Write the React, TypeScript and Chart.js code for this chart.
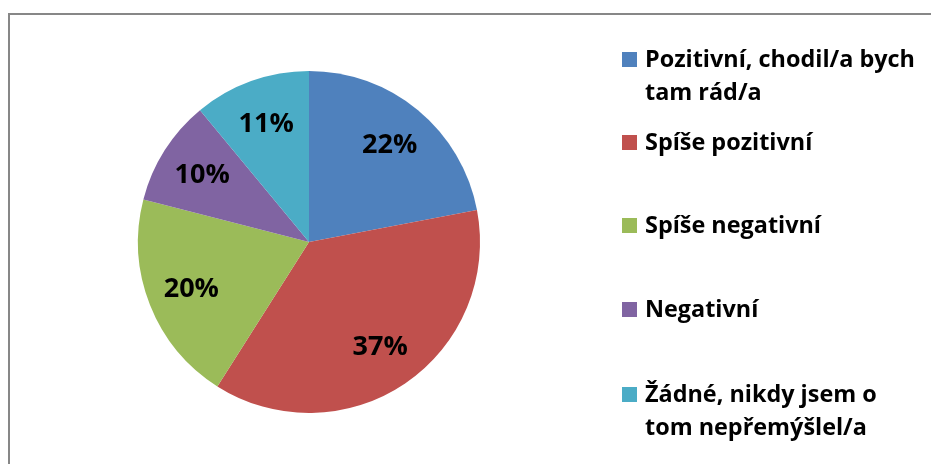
import React, { useEffect, useRef } from "react";
import { Chart, registerables } from "chart.js";

Chart.register(...registerables);

const categories: string[][] = [
  ["Pozitivní, chodil/a bych", "tam rád/a"],
  ["Spíše pozitivní"],
  ["Spíše negativní"],
  ["Negativní"],
  ["Žádné, nikdy jsem o", "tom nepřemýšlel/a"],
];
const values: number[] = [22, 37, 20, 10, 11];
const colors: string[] = ["#4F81BD", "#C0504D", "#9BBB59", "#8064A2", "#4BACC6"];

const W = 931;
const H = 464;
const FONT = "'Open Sans', Lato, sans-serif";

const framePlugin = {
  id: "frame",
  beforeDraw(chart: any) {
    const ctx = chart.ctx;
    ctx.save();
    ctx.fillStyle = "#ffffff";
    ctx.fillRect(0, 0, W, H);
    ctx.strokeStyle = "#878787";
    ctx.lineWidth = 2;
    ctx.strokeRect(9, 14, W + 50, H + 50);
    ctx.restore();
  },
};

const labelPlugin = {
  id: "pctLabels",
  afterDatasetsDraw(chart: any) {
    const ctx = chart.ctx;
    const meta = chart.getDatasetMeta(0);
    const data = chart.data.datasets[0].data as number[];
    const total = data.reduce((a, b) => a + b, 0);
    ctx.save();
    ctx.fillStyle = "#000000";
    ctx.font = `bold 27px ${FONT}`;
    ctx.textAlign = "center";
    ctx.textBaseline = "middle";
    meta.data.forEach((arc: any, i: number) => {
      const p = arc.getProps(["x", "y", "startAngle", "endAngle", "outerRadius"], true);
      const mid = (p.startAngle + p.endAngle) / 2;
      const r = p.outerRadius * 0.74;
      const x = p.x + Math.cos(mid) * r;
      const y = p.y + Math.sin(mid) * r + 1;
      ctx.fillText(Math.round((data[i] / total) * 100) + "%", x, y);
    });
    ctx.restore();
  },
};

const legendPlugin = {
  id: "customLegend",
  afterDraw(chart: any) {
    const ctx = chart.ctx;
    const firstBaselines = [67, 150, 233, 317, 402];
    const lineGap = 33;
    ctx.save();
    ctx.font = `bold 23.4px ${FONT}`;
    ctx.textAlign = "left";
    ctx.textBaseline = "alphabetic";
    categories.forEach((lines, i) => {
      const b = firstBaselines[i];
      ctx.fillStyle = colors[i];
      ctx.fillRect(622, b - 15, 15, 15);
      ctx.fillStyle = "#000000";
      lines.forEach((ln, j) => {
        ctx.fillText(ln, 645, b + j * lineGap);
      });
    });
    ctx.restore();
  },
};

export default function App() {
  const ref = useRef<HTMLCanvasElement | null>(null);
  useEffect(() => {
    if (!ref.current) return;
    const chart = new Chart(ref.current, {
      type: "pie",
      data: {
        labels: categories.map((c) => c.join(" ")),
        datasets: [
          {
            data: values,
            backgroundColor: colors,
            borderWidth: 0,
          },
        ],
      },
      options: {
        responsive: false,
        animation: false,
        layout: { padding: { left: 138, right: 451, top: 71, bottom: 51 } },
        plugins: {
          legend: { display: false },
          tooltip: { enabled: false },
        },
      },
      plugins: [framePlugin, labelPlugin, legendPlugin],
    });
    return () => chart.destroy();
  }, []);
  return (
    <div style={{ position: "fixed", left: 0, top: 0, width: W, height: H, background: "#fff" }}>
      <canvas ref={ref} width={W} height={H} style={{ display: "block" }} />
    </div>
  );
}
